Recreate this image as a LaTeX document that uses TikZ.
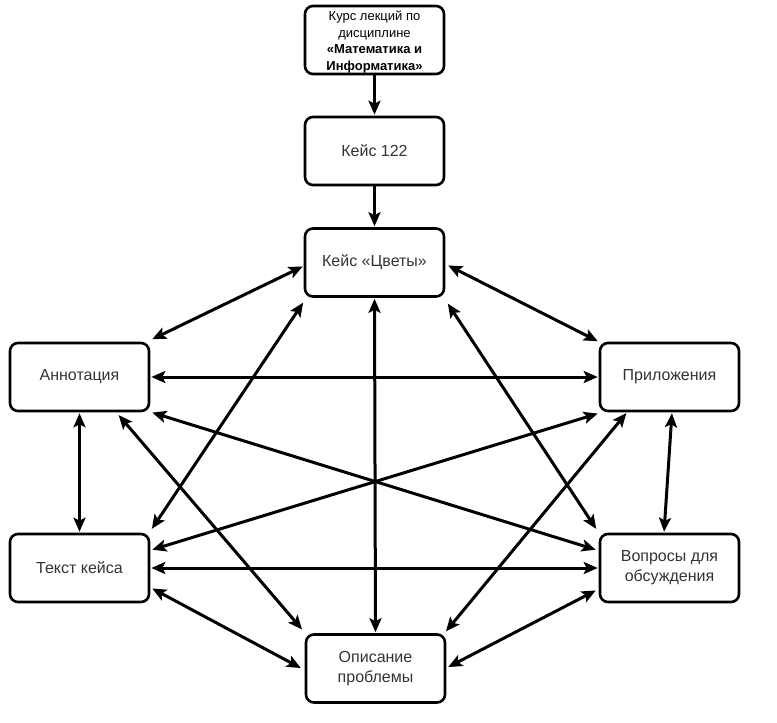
\documentclass[tikz,border=0pt]{standalone}
\usepackage{fontspec}
\setmainfont{Liberation Sans}
\usetikzlibrary{arrows.meta,calc}
\definecolor{txtgray}{HTML}{333333}
\begin{document}
\begin{tikzpicture}[x=1pt,y=-1pt,
  box/.style={draw=black,line width=2.6pt,rounded corners=8pt,fill=white,
    minimum width=139pt,minimum height=68pt,align=center,inner sep=2pt,
    font=\fontsize{16}{20}\selectfont,text=txtgray},
  topbox/.style={box,font=\fontsize{13}{16.5}\selectfont,text=black},
  conn/.style={line width=3pt,{Stealth[length=14pt,width=12pt,inset=3pt]}-{Stealth[length=14pt,width=12pt,inset=3pt]},shorten <=1pt,shorten >=1pt},
  one/.style={line width=3pt,-{Stealth[length=14pt,width=12pt,inset=3pt]},shorten >=1pt}]
\useasboundingbox (0,0) rectangle (777,723);
\fill[white] (0,0) rectangle (777,723);

\node[topbox] (top) at (374.5,40) {};
\node[align=center,font=\fontsize{13}{16.5}\selectfont,text=black,inner sep=0pt] (toptext) at (374.5,42) {Курс лекций по\\дисциплине\\\textbf{«Математика и}\\\textbf{Информатика»}};
\node[box] (k122) at (374.5,151) {Кейс 122};
\node[box] (tsv) at (374.5,262.5) {Кейс «Цветы»};
\node[box] (ann) at (79.5,377) {Аннотация};
\node[box] (txt) at (79.5,568) {Текст кейса};
\node[box] (pri) at (669.5,377) {Приложения};
\node[box] (vop) at (669.5,568) {Вопросы для\\обсуждения};
\node[box] (opi) at (375.5,668.5) {Описание\\проблемы};

\draw[one] (top.south) -- (k122.north);
\draw[one] (k122.south) -- (tsv.north);

\draw[conn] ($(tsv.west)+(0,3.5)$) -- ($(ann.north east)+(1,-2)$);
\draw[conn] ($(tsv.east)+(2,2.5)$) -- ($(pri.north west)+(0,0)$);
\draw[conn] ($(tsv.south west)+(0,4)$) -- ($(txt.north east)+(1,-3)$);
\draw[conn] (tsv.south) -- (opi.north);
\draw[conn] ($(tsv.south east)+(2,5)$) -- ($(vop.north west)+(-2,-3)$);

\draw[conn] (ann.east) -- (pri.west);
\draw[conn] (ann.south) -- (txt.north);
\draw[conn] ($(ann.south east)+(1,0)$) -- ($(vop.west)+(-2,-18)$);
\draw[conn] ($(ann.south)+(38.5,2)$) -- ($(opi.north west)+(-2,-3)$);

\draw[conn] ($(pri.south west)+(0,1)$) -- ($(txt.east)+(1,-18)$);
\draw[conn] ($(pri.south)+(2.5,0)$) -- ($(vop.north)+(-5.5,0)$);
\draw[conn] ($(pri.south)+(-42.5,0)$) -- ($(opi.north east)+(-1,-1)$);

\draw[conn] (txt.east) -- (vop.west);
\draw[conn] ($(txt.east)+(1,20)$) -- ($(opi.west)+(-3,0)$);
\draw[conn] ($(vop.west)+(-2,22)$) -- ($(opi.east)+(1,-1)$);
\end{tikzpicture}
\end{document}
